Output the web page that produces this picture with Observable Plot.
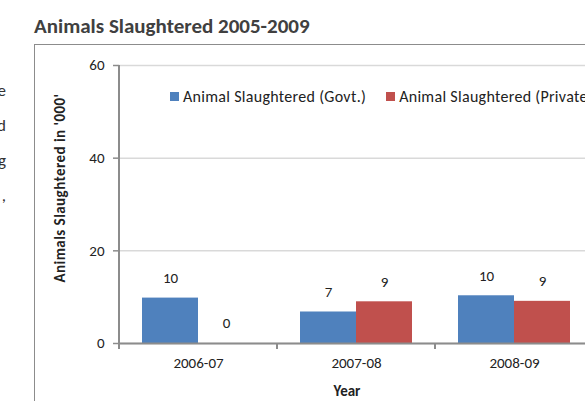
<!DOCTYPE html>
<html>
<head>
<meta charset="utf-8">
<script src="https://cdn.jsdelivr.net/npm/d3@7"></script>
<script src="https://cdn.jsdelivr.net/npm/@observablehq/plot@0.6"></script>
<style>
  html, body { margin: 0; padding: 0; width: 585px; height: 401px; overflow: hidden; background: #fff; }
  body { font-family: Carlito, Lato, "Open Sans", sans-serif; color: #222; }
  #wrap { position: relative; width: 585px; height: 401px; overflow: hidden; }
  #title { position: absolute; left: 34px; top: 13px; font-size: 21px; font-weight: bold; color: #404040; white-space: nowrap; }
  #frame { position: absolute; left: 34px; top: 44px; width: 700px; height: 500px; border-left: 1px solid #8c8c8c; border-top: 1px solid #8c8c8c; }
  #side { position: absolute; left: -40px; top: 73px; width: 46px; text-align: right; font-size: 17px; line-height: 35px; color: #333; }
  #chart { position: absolute; left: 0; top: 0; width: 620px; }
  #chart svg { max-width: none !important; }
  #ylab { position: absolute; left: 60px; top: 188px; transform: translate(-50%, -50%) rotate(-90deg); font-size: 15px; letter-spacing: 0.45px; font-weight: bold; white-space: nowrap; color: #222; }
  #xlab { position: absolute; left: 347px; top: 391px; transform: translate(-50%, -50%); font-size: 15px; font-weight: bold; color: #222; }
  #legend { position: absolute; left: 170px; top: 80px; width: 600px; }
  #legend, #legend * { font-family: Carlito, Lato, "Open Sans", sans-serif !important; font-size: 16px !important; letter-spacing: 0.3px; color: #222 !important; }
  #legend > div { margin: 0 !important; }
  #legend span { margin-right: 20px !important; }
  #legend span > svg { margin-right: 4px !important; }
</style>
</head>
<body>
<div id="wrap">
  <div id="side">e<br>d<br>g<br>,</div>
  <div id="frame"></div>
  <div id="title">Animals Slaughtered 2005-2009</div>
  <div id="chart"></div>
  <div id="ylab">Animals Slaughtered in '000'</div>
  <div id="xlab">Year</div>
  <div id="legend"></div>
</div>
<script>
const years = ["2006-07", "2007-08", "2008-09"];
const series = ["Animal Slaughtered (Govt.)", "Animal Slaughtered (Private)"];
const govtValues = [9.8, 6.8, 10.3];
const privateValues = [0, 9.0, 9.1];
const yTicks = [0, 20, 40, 60];
const colors = ["#4F81BD", "#C0504D"];

const data = years.flatMap((y, i) => [
  {year: y, series: series[0], value: govtValues[i]},
  {year: y, series: series[1], value: privateValues[i]}
]);

const fontFamily = 'Carlito, Lato, "Open Sans", sans-serif';

const chart = Plot.plot({
  width: 620,
  height: 401,
  marginLeft: 119,
  marginRight: 27,
  marginTop: 65,
  marginBottom: 58,
  style: {fontFamily, fontSize: "15px", color: "#222", background: "transparent", overflow: "visible", maxWidth: "none"},
  fx: {domain: years, padding: 0, label: null},
  x: {domain: series, paddingInner: 0, paddingOuter: 0.41, axis: null},
  y: {domain: [0, 60], label: null},
  color: {domain: series, range: colors},
  marks: [
    Plot.gridY(yTicks, {stroke: "#d9d9d9", strokeOpacity: 1, strokeWidth: 1.5}),
    Plot.barY(data, {fx: "year", x: "series", y: "value", fill: "series"}),
    Plot.text(data, {
      fx: "year", x: "series", y: "value",
      text: d => d3.format(".0f")(d.value),
      dy: -20, fontSize: 15, fill: "#222"
    }),
    Plot.ruleY([0], {stroke: "#8c8c8c", strokeWidth: 2}),
    Plot.axisY(yTicks, {tickSize: 6, tickPadding: 9, stroke: "#8c8c8c", strokeWidth: 1.5, fill: "#222", fontSize: 15, label: null}),
    Plot.axisFx({anchor: "bottom", tickSize: 0, tickPadding: 14, fontSize: 15, fill: "#222", label: null}),
    // category boundary ticks and the y-axis line, derived from the facet layout and the y scale
    Plot.text(years, {
      fx: d => d,
      text: d => d,
      frameAnchor: "middle",
      render(index, scales, values, dims) {
        const g = d3.create("svg:g").attr("stroke", "#8c8c8c").attr("stroke-width", 2);
        const x0 = dims.marginLeft;
        const x1 = dims.width - dims.marginRight;
        const yb = scales.y(0);
        const yt = scales.y(d3.max(yTicks));
        for (const i of index) {
          const first = years[i] === years[0];
          const last = years[i] === years[years.length - 1];
          g.append("line").attr("x1", x0).attr("x2", x0).attr("y1", first ? yt : yb).attr("y2", yb + 6);
          if (last) g.append("line").attr("x1", x1).attr("x2", x1).attr("y1", yb).attr("y2", yb + 6);
        }
        return g.node();
      }
    })
  ]
});
document.getElementById("chart").appendChild(chart);

const legend = chart.legend("color", {swatchSize: 9, className: "lg"});
document.getElementById("legend").appendChild(legend);
</script>
</body>
</html>
